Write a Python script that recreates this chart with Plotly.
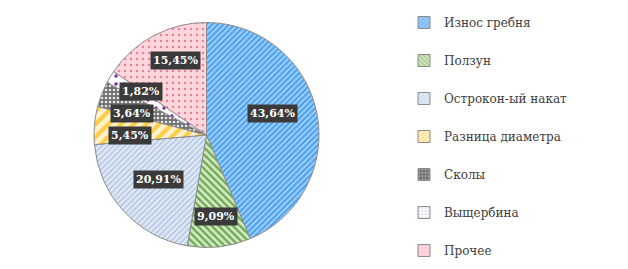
import math
import plotly.graph_objects as go

categories = ["Износ гребня", "Ползун", "Остроконечный накат", "Разница диаметра", "Сколы", "Выщербина", "Прочее"]
legend_labels = ["Износ гребня", "Ползун", "Острокон-ый накат", "Разница диаметра", "Сколы", "Выщербина", "Прочее"]
values = [43.64, 9.09, 20.91, 5.45, 3.64, 1.82, 15.45]

bg_colors = ["#9fcdf7", "#d5e8c4", "#e3ebf6", "#fff2cc", "#6e6e6e", "#ffffff", "#ffd6dc"]
fg_colors = ["#3d9cf0", "#6aa84f", "#b4c8e4", "#ffcc44", "#e6e6e6", "#7030a0", "#e8809a"]
shapes = ["/", "\\", "/", "/", ".", ".", "."]
sizes = [4, 5, 4, 9, 4, 8, 6]
solidity = [0.45, 0.45, 0.45, 0.45, 0.35, 0.15, 0.12]
label_r = [0.62, 0.73, 0.58, 0.68, 0.69, 0.70, 0.72]
label_shift = [-6.5, 0, 0, -5, -5, 2, 5]

FONT = "DejaVu Serif"
OFF = 8  # page body margin offset
W, H = 628 - OFF, 269 - OFF
cx, cy, R = 206.5 - OFF, 135.0 - OFF, 112.5

fig = go.Figure()
fig.add_trace(go.Pie(
    labels=categories, values=values, sort=False, direction="clockwise",
    textinfo="none", hoverinfo="label+percent", showlegend=False,
    domain=dict(x=[(cx - R) / W, (cx + R) / W], y=[1 - (cy + R) / H, 1 - (cy - R) / H]),
    marker=dict(colors=bg_colors, line=dict(color="#8c8c8c", width=1),
                pattern=dict(shape=shapes, fgcolor=fg_colors, bgcolor=bg_colors,
                             size=sizes, solidity=solidity, fillmode="replace")),
))

for i, name in enumerate(legend_labels):
    fig.add_trace(go.Bar(
        x=[None], y=[None], name=name, legendgroup=f"g{i}", showlegend=True,
        marker=dict(color=bg_colors[i], line=dict(color="#8c8c8c", width=1),
                    pattern=dict(shape=shapes[i], fgcolor=fg_colors[i], bgcolor=bg_colors[i],
                                 size=4, solidity=solidity[i])),
    ))

cum = 0.0
total = sum(values)
for i, v in enumerate(values):
    mid = math.radians((cum + v / 2) / total * 360 + label_shift[i])
    cum += v
    px = cx + label_r[i] * R * math.sin(mid)
    py = cy - label_r[i] * R * math.cos(mid)
    fig.add_annotation(
        x=px / W, y=1 - py / H, xref="paper", yref="paper", showarrow=False,
        xanchor="center", yanchor="middle",
        text=f"<b>{v:.2f}%</b>".replace(".", ","),
        font=dict(family=FONT, size=11, color="white"),
        bgcolor="#3a3a3a", borderpad=2,
    )

fig.update_layout(
    width=W, height=H, margin=dict(l=0, r=0, t=0, b=0),
    paper_bgcolor="white", plot_bgcolor="white",
    font=dict(family=FONT),
    xaxis=dict(visible=False), yaxis=dict(visible=False),
    showlegend=True,
    legend=dict(x=396 / W, y=1 - 0 / H, xanchor="left", yanchor="top",
                font=dict(family=FONT, size=12, color="#404040"),
                tracegroupgap=19, itemwidth=30, bgcolor="rgba(0,0,0,0)"),
)

fig.write_html("out.html")
